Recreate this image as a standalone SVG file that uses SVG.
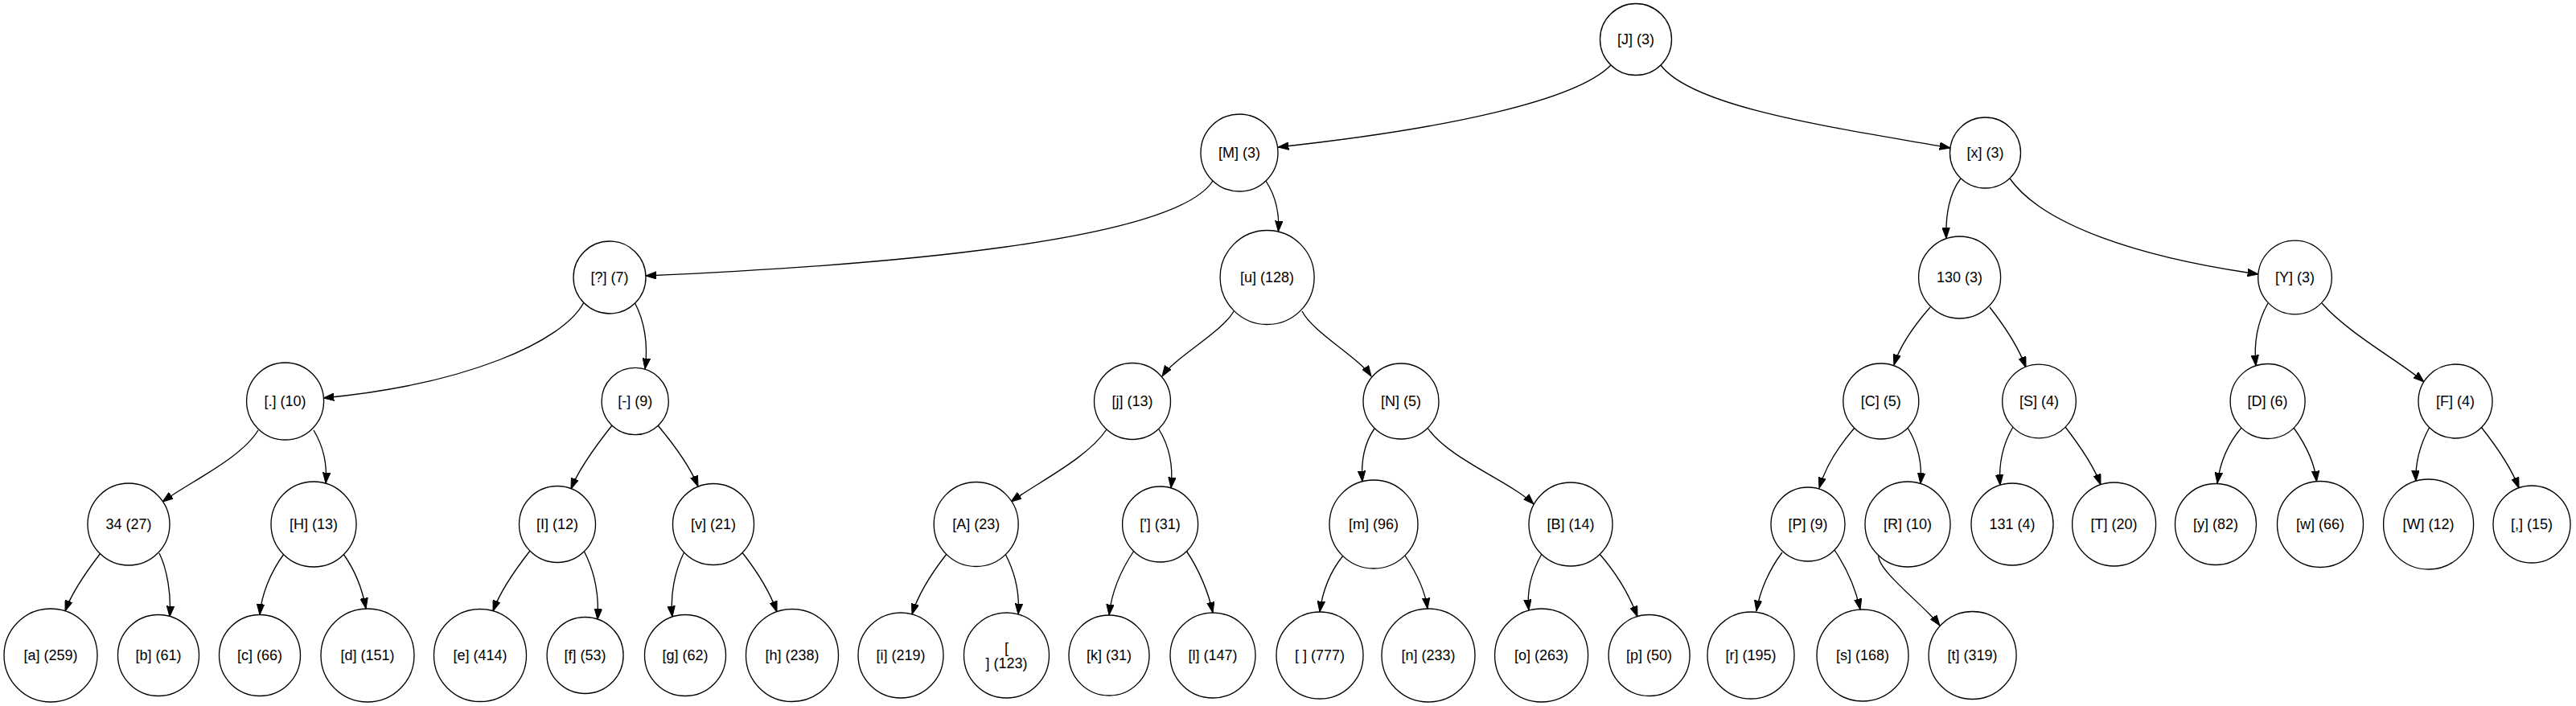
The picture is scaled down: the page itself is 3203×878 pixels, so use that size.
<svg xmlns="http://www.w3.org/2000/svg" width="3203" height="878" viewBox="0 0 3203 878">
<style>
.node circle{fill:#fff;stroke:#000;stroke-width:1.33}
.node text{font-family:"Liberation Sans",Arial,sans-serif;font-size:18px;fill:#000;text-anchor:middle}
.edge{fill:none;stroke:#000;stroke-width:1.33;marker-end:url(#arr)}
</style>
<defs>
<marker id="arr" markerUnits="userSpaceOnUse" markerWidth="14" markerHeight="10" viewBox="0 0 14 10" refX="13.3" refY="5" orient="auto">
<path d="M0,0.33 L13.3,5 L0,9.67 Z" fill="#000" stroke="#000" stroke-width="1"/>
</marker>
</defs>
<rect width="3203" height="878" fill="#fff"/>
<g id="connectors">
<path class="edge" d="M2003,81 C1960,125 1800,160 1589,183"/>
<path class="edge" d="M2065,81 C2105,135 2290,160 2425,184"/>
<path class="edge" d="M1508,225 C1460,300 1100,330 803,343"/>
<path class="edge" d="M1574,225 C1587,245 1591,265 1589.5,288"/>
<path class="edge" d="M2438,222 C2424,240 2419,265 2420,296.5"/>
<path class="edge" d="M2499,222 C2540,280 2660,320 2808,341"/>
<path class="edge" d="M726,376 C700,425 580,478 402,495"/>
<path class="edge" d="M789,376 C802,400 806,430 802,459"/>
<path class="edge" d="M1534,387 C1520,413 1460,445 1445,468"/>
<path class="edge" d="M1619,387 C1632,413 1690,445 1705,468"/>
<path class="edge" d="M2400,382 C2380,405 2362,430 2355,454"/>
<path class="edge" d="M2474,382 C2492,405 2510,432 2519,457"/>
<path class="edge" d="M2820,377 C2807,400 2802,425 2805,455"/>
<path class="edge" d="M2887,377 C2920,415 2985,450 3014,475"/>
<path class="edge" d="M321,535 C300,570 235,600 202,624"/>
<path class="edge" d="M390,535 C402,555 407,578 405,601"/>
<path class="edge" d="M761,529 C742,553 720,582 710,608"/>
<path class="edge" d="M818,529 C838,553 858,580 868,605"/>
<path class="edge" d="M1376,534 C1352,570 1290,600 1257,624"/>
<path class="edge" d="M1441,534 C1454,555 1459,580 1456,607"/>
<path class="edge" d="M1709,533 C1697,550 1692,572 1694,599"/>
<path class="edge" d="M1775,532 C1800,570 1880,600 1907,627"/>
<path class="edge" d="M2306,532 C2286,555 2270,580 2262,607"/>
<path class="edge" d="M2372,532 C2385,553 2390,578 2388,601.5"/>
<path class="edge" d="M2503,531 C2490,553 2485,578 2487,603.5"/>
<path class="edge" d="M2568,531 C2585,553 2603,578 2612,603"/>
<path class="edge" d="M2787,532 C2769,553 2760,578 2757,601"/>
<path class="edge" d="M2852,532 C2867,553 2878,575 2880.5,599"/>
<path class="edge" d="M3021,531 C3009,553 3003,575 3004,598.5"/>
<path class="edge" d="M3085,531 C3104,555 3122,580 3132,607"/>
<path class="edge" d="M125,688 C108,710 90,735 81,760"/>
<path class="edge" d="M198,688 C208,708 213,740 211,767"/>
<path class="edge" d="M353,689 C336,712 325,740 323,764.5"/>
<path class="edge" d="M427,689 C442,710 451,735 455,757"/>
<path class="edge" d="M659,685 C641,708 622,735 613,760"/>
<path class="edge" d="M726,685 C739,710 745,740 743,770.5"/>
<path class="edge" d="M851,686 C839,710 833,740 836,767"/>
<path class="edge" d="M922,686 C941,710 957,735 966,761"/>
<path class="edge" d="M1177,689 C1159,712 1142,738 1134,764"/>
<path class="edge" d="M1250,689 C1262,712 1268,738 1266,764"/>
<path class="edge" d="M1410,685 C1393,710 1382,738 1379,765"/>
<path class="edge" d="M1475,685 C1491,708 1503,738 1508,762"/>
<path class="edge" d="M1670,691 C1653,712 1644,738 1641,761"/>
<path class="edge" d="M1747,691 C1761,712 1772,735 1775,757"/>
<path class="edge" d="M1917,689 C1905,710 1898,735 1901,759"/>
<path class="edge" d="M1989,689 C2009,712 2026,740 2036,767"/>
<path class="edge" d="M2216,687 C2200,708 2188,735 2184,760"/>
<path class="edge" d="M2281,684 C2297,708 2308,735 2313,758"/>
<path class="edge" d="M2336,690 C2332,708 2395,755 2412,778"/>
</g>
<g id="n_J" class="node"><circle cx="2034" cy="49" r="44.5"/><text x="2034" y="55.3">[J] (3)</text></g>
<g id="n_M" class="node"><circle cx="1541" cy="190" r="48"/><text x="1541" y="196.3">[M] (3)</text></g>
<g id="n_x" class="node"><circle cx="2468.5" cy="190" r="44"/><text x="2468.5" y="196.3">[x] (3)</text></g>
<g id="n_q" class="node"><circle cx="758" cy="345" r="45"/><text x="758" y="351.3">[?] (7)</text></g>
<g id="n_u" class="node"><circle cx="1575.6" cy="345" r="58.5"/><text x="1575.6" y="351.3">[u] (128)</text></g>
<g id="n_130" class="node"><circle cx="2436.6" cy="345" r="51"/><text x="2436.6" y="351.3">130 (3)</text></g>
<g id="n_Y" class="node"><circle cx="2853.5" cy="345" r="45.8"/><text x="2853.5" y="351.3">[Y] (3)</text></g>
<g id="n_dot" class="node"><circle cx="354.6" cy="499" r="48"/><text x="354.6" y="505.3">[.] (10)</text></g>
<g id="n_dash" class="node"><circle cx="789.7" cy="499" r="41.6"/><text x="789.7" y="505.3">[-] (9)</text></g>
<g id="n_j" class="node"><circle cx="1408" cy="499" r="47.5"/><text x="1408" y="505.3">[j] (13)</text></g>
<g id="n_N" class="node"><circle cx="1742" cy="499" r="47"/><text x="1742" y="505.3">[N] (5)</text></g>
<g id="n_C" class="node"><circle cx="2338.8" cy="499" r="47"/><text x="2338.8" y="505.3">[C] (5)</text></g>
<g id="n_S" class="node"><circle cx="2535.5" cy="499" r="45.8"/><text x="2535.5" y="505.3">[S] (4)</text></g>
<g id="n_D" class="node"><circle cx="2819.6" cy="499" r="46.5"/><text x="2819.6" y="505.3">[D] (6)</text></g>
<g id="n_F" class="node"><circle cx="3053" cy="499" r="46"/><text x="3053" y="505.3">[F] (4)</text></g>
<g id="n_34" class="node"><circle cx="160" cy="652" r="51"/><text x="160" y="658.3">34 (27)</text></g>
<g id="n_H" class="node"><circle cx="390" cy="652" r="53"/><text x="390" y="658.3">[H] (13)</text></g>
<g id="n_I" class="node"><circle cx="693" cy="652" r="47.5"/><text x="693" y="658.3">[I] (12)</text></g>
<g id="n_v" class="node"><circle cx="887" cy="652" r="50.5"/><text x="887" y="658.3">[v] (21)</text></g>
<g id="n_A" class="node"><circle cx="1213.7" cy="652" r="52.5"/><text x="1213.7" y="658.3">[A] (23)</text></g>
<g id="n_apos" class="node"><circle cx="1442.6" cy="652" r="47"/><text x="1442.6" y="658.3">['] (31)</text></g>
<g id="n_m" class="node"><circle cx="1708" cy="652" r="55"/><text x="1708" y="658.3">[m] (96)</text></g>
<g id="n_B" class="node"><circle cx="1953" cy="652" r="52"/><text x="1953" y="658.3">[B] (14)</text></g>
<g id="n_P" class="node"><circle cx="2248" cy="652" r="46"/><text x="2248" y="658.3">[P] (9)</text></g>
<g id="n_R" class="node"><circle cx="2372" cy="652" r="53"/><text x="2372" y="658.3">[R] (10)</text></g>
<g id="n_131" class="node"><circle cx="2502" cy="652" r="51"/><text x="2502" y="658.3">131 (4)</text></g>
<g id="n_T" class="node"><circle cx="2628.6" cy="652" r="52"/><text x="2628.6" y="658.3">[T] (20)</text></g>
<g id="n_y" class="node"><circle cx="2755" cy="652" r="50.5"/><text x="2755" y="658.3">[y] (82)</text></g>
<g id="n_w" class="node"><circle cx="2885" cy="652" r="53.5"/><text x="2885" y="658.3">[w] (66)</text></g>
<g id="n_W" class="node"><circle cx="3019.6" cy="652" r="56"/><text x="3019.6" y="658.3">[W] (12)</text></g>
<g id="n_comma" class="node"><circle cx="3148" cy="652" r="48"/><text x="3148" y="658.3">[,] (15)</text></g>
<g id="n_a" class="node"><circle cx="63" cy="815" r="58"/><text x="63" y="821.3">[a] (259)</text></g>
<g id="n_b" class="node"><circle cx="197" cy="815" r="50.5"/><text x="197" y="821.3">[b] (61)</text></g>
<g id="n_c" class="node"><circle cx="323" cy="815" r="50.5"/><text x="323" y="821.3">[c] (66)</text></g>
<g id="n_d" class="node"><circle cx="457" cy="815" r="58"/><text x="457" y="821.3">[d] (151)</text></g>
<g id="n_e" class="node"><circle cx="597" cy="815" r="57.5"/><text x="597" y="821.3">[e] (414)</text></g>
<g id="n_f" class="node"><circle cx="727.6" cy="815" r="47.5"/><text x="727.6" y="821.3">[f] (53)</text></g>
<g id="n_g" class="node"><circle cx="852" cy="815" r="50.5"/><text x="852" y="821.3">[g] (62)</text></g>
<g id="n_h" class="node"><circle cx="985" cy="815" r="57.5"/><text x="985" y="821.3">[h] (238)</text></g>
<g id="n_i" class="node"><circle cx="1120" cy="815" r="53"/><text x="1120" y="821.3">[i] (219)</text></g>
<g id="n_nl" class="node"><circle cx="1251.5" cy="815" r="53"/><text x="1251.5" y="812">[</text><text x="1251.5" y="831">] (123)</text></g>
<g id="n_k" class="node"><circle cx="1379" cy="815" r="50"/><text x="1379" y="821.3">[k] (31)</text></g>
<g id="n_l" class="node"><circle cx="1508" cy="815" r="53"/><text x="1508" y="821.3">[l] (147)</text></g>
<g id="n_space" class="node"><circle cx="1641" cy="815" r="54"/><text x="1641" y="821.3">[ ] (777)</text></g>
<g id="n_n" class="node"><circle cx="1776" cy="815" r="58"/><text x="1776" y="821.3">[n] (233)</text></g>
<g id="n_o" class="node"><circle cx="1916.6" cy="815" r="58"/><text x="1916.6" y="821.3">[o] (263)</text></g>
<g id="n_p" class="node"><circle cx="2050.6" cy="815" r="50.5"/><text x="2050.6" y="821.3">[p] (50)</text></g>
<g id="n_r" class="node"><circle cx="2177" cy="815" r="54"/><text x="2177" y="821.3">[r] (195)</text></g>
<g id="n_s" class="node"><circle cx="2316" cy="815" r="57"/><text x="2316" y="821.3">[s] (168)</text></g>
<g id="n_t" class="node"><circle cx="2452.6" cy="815" r="54.5"/><text x="2452.6" y="821.3">[t] (319)</text></g>
</svg>
